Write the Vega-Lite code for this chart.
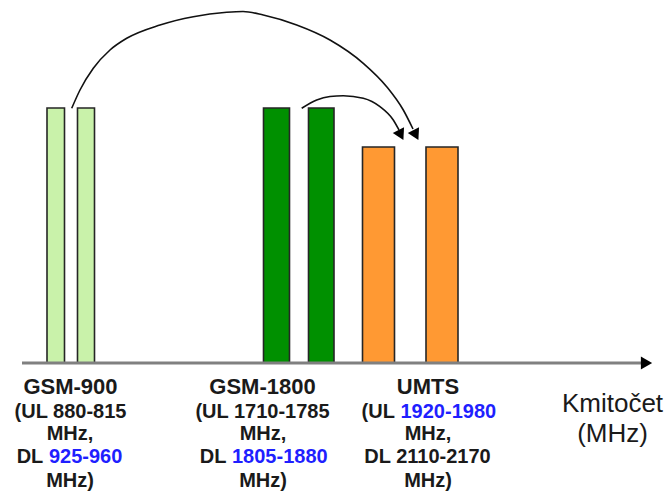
{
  "$schema": "https://vega.github.io/schema/vega-lite/v6.json",
  "width": 667,
  "height": 493,
  "autosize": {"type": "fit", "contains": "padding"},
  "padding": 0,
  "background": "white",
  "config": {"view": {"stroke": null}},
  "encoding": {
    "x": {"field": "x", "type": "quantitative", "scale": {"domain": [0, 667], "nice": false, "zero": false}, "axis": null},
    "y": {"field": "y", "type": "quantitative", "scale": {"domain": [-130, 363], "nice": false, "zero": false}, "axis": null}
  },
  "layer": [
    {
      "data": {"values": [
        {"band": "GSM-900", "link": "UL", "x": 47, "x2": 64.5, "y": 255, "y2": 0},
        {"band": "GSM-900", "link": "DL", "x": 77.5, "x2": 94.5, "y": 255, "y2": 0},
        {"band": "GSM-1800", "link": "UL", "x": 263.5, "x2": 289.5, "y": 255, "y2": 0},
        {"band": "GSM-1800", "link": "DL", "x": 308.5, "x2": 334, "y": 255, "y2": 0},
        {"band": "UMTS", "link": "UL", "x": 362.5, "x2": 394.5, "y": 216, "y2": 0},
        {"band": "UMTS", "link": "DL", "x": 426, "x2": 458, "y": 216, "y2": 0}
      ]},
      "mark": {"type": "rect", "fill": "#b5b5b5", "xOffset": 1.5, "yOffset": 1.5, "opacity": 0.7},
      "encoding": {
        "x2": {"field": "x2"},
        "y2": {"field": "y2"}
      }
    },
    {
      "data": {"values": [
        {"band": "GSM-900", "link": "UL", "x": 47, "x2": 64.5, "y": 255, "y2": 0},
        {"band": "GSM-900", "link": "DL", "x": 77.5, "x2": 94.5, "y": 255, "y2": 0},
        {"band": "GSM-1800", "link": "UL", "x": 263.5, "x2": 289.5, "y": 255, "y2": 0},
        {"band": "GSM-1800", "link": "DL", "x": 308.5, "x2": 334, "y": 255, "y2": 0},
        {"band": "UMTS", "link": "UL", "x": 362.5, "x2": 394.5, "y": 216, "y2": 0},
        {"band": "UMTS", "link": "DL", "x": 426, "x2": 458, "y": 216, "y2": 0}
      ]},
      "mark": {"type": "rect", "stroke": "#262626", "strokeWidth": 1.6},
      "encoding": {
        "x2": {"field": "x2"},
        "y2": {"field": "y2"},
        "fill": {"field": "band", "type": "nominal", "scale": {"domain": ["GSM-900", "GSM-1800", "UMTS"], "range": ["#c9f2aa", "#009000", "#ff9933"]}, "legend": null}
      }
    },
    {
      "data": {"values": [{"x": 22, "x2": 642, "y": 0}]},
      "mark": {"type": "rule", "color": "#808080", "strokeWidth": 3},
      "encoding": {"x2": {"field": "x2"}}
    },
    {
      "data": {"values": [{"x": 646.5, "y": 0}]},
      "mark": {"type": "point", "shape": "triangle-right", "size": 170, "filled": true, "color": "#000000", "opacity": 1},
      "encoding": {}
    },
    {
      "data": {"values": [
        {"arc": "big", "x": 71.7, "y": 254.7},
        {"arc": "big", "x": 80, "y": 273},
        {"arc": "big", "x": 93.3, "y": 294.7},
        {"arc": "big", "x": 110, "y": 313},
        {"arc": "big", "x": 126.7, "y": 324.7},
        {"arc": "big", "x": 160, "y": 338},
        {"arc": "big", "x": 193.3, "y": 346.3},
        {"arc": "big", "x": 226.7, "y": 350.7},
        {"arc": "big", "x": 243, "y": 351.5},
        {"arc": "big", "x": 263.3, "y": 348},
        {"arc": "big", "x": 296.7, "y": 338},
        {"arc": "big", "x": 330, "y": 323},
        {"arc": "big", "x": 363.3, "y": 299.7},
        {"arc": "big", "x": 386.7, "y": 276.3},
        {"arc": "big", "x": 403.3, "y": 253},
        {"arc": "big", "x": 413, "y": 234},
        {"arc": "small", "x": 301.7, "y": 254.7},
        {"arc": "small", "x": 316.7, "y": 263},
        {"arc": "small", "x": 330, "y": 266.5},
        {"arc": "small", "x": 343.3, "y": 267.3},
        {"arc": "small", "x": 363.3, "y": 264.7},
        {"arc": "small", "x": 380, "y": 256.3},
        {"arc": "small", "x": 393.3, "y": 243},
        {"arc": "small", "x": 399, "y": 233}
      ]},
      "mark": {"type": "line", "color": "#111111", "strokeWidth": 1.6, "interpolate": "monotone"},
      "encoding": {"detail": {"field": "arc", "type": "nominal"}}
    },
    {
      "data": {"values": [
        {"arc": "big", "x": 415.9, "y": 228},
        {"arc": "small", "x": 400.9, "y": 228}
      ]},
      "mark": {"type": "point", "shape": "triangle-down", "size": 160, "angle": -27, "filled": true, "color": "#000000", "opacity": 1},
      "encoding": {}
    },
    {
      "data": {"values": [
        {"x": 70.5, "y": -31, "text": "GSM-900"},
        {"x": 262.5, "y": -31, "text": "GSM-1800"},
        {"x": 428, "y": -31, "text": "UMTS"}
      ]},
      "mark": {"type": "text", "font": "Liberation Sans", "fontWeight": "bold", "fontSize": 22, "align": "center", "baseline": "alphabetic", "color": "#1a1a1a"},
      "encoding": {"text": {"field": "text"}}
    },
    {
      "data": {"values": [
        {"x": 70.5, "y": -54.7, "text": "(UL 880-815"},
        {"x": 70, "y": -77, "text": "MHz,"},
        {"x": 70, "y": -123.7, "text": "MHz)"},
        {"x": 262.5, "y": -54.7, "text": "(UL 1710-1785"},
        {"x": 263, "y": -77, "text": "MHz,"},
        {"x": 263, "y": -123.7, "text": "MHz)"},
        {"x": 428, "y": -77, "text": "MHz,"},
        {"x": 427.5, "y": -100.3, "text": "DL 2110-2170"},
        {"x": 428, "y": -123.7, "text": "MHz)"}
      ]},
      "mark": {"type": "text", "font": "Liberation Sans", "fontWeight": "bold", "fontSize": 20, "align": "center", "baseline": "alphabetic", "color": "#1a1a1a"},
      "encoding": {"text": {"field": "text"}}
    },
    {
      "data": {"values": [
        {"x": 43.3, "y": -100.3, "text": "DL"},
        {"x": 226.4, "y": -100.3, "text": "DL"},
        {"x": 394.9, "y": -54.7, "text": "(UL"}
      ]},
      "mark": {"type": "text", "font": "Liberation Sans", "fontWeight": "bold", "fontSize": 20, "align": "right", "baseline": "alphabetic", "color": "#1a1a1a"},
      "encoding": {"text": {"field": "text"}}
    },
    {
      "data": {"values": [
        {"x": 48.9, "y": -100.3, "text": "925-960"},
        {"x": 232, "y": -100.3, "text": "1805-1880"},
        {"x": 400.5, "y": -54.7, "text": "1920-1980"}
      ]},
      "mark": {"type": "text", "font": "Liberation Sans", "fontWeight": "bold", "fontSize": 20, "align": "left", "baseline": "alphabetic", "color": "#1f1fff"},
      "encoding": {"text": {"field": "text"}}
    },
    {
      "data": {"values": [
        {"x": 612.5, "y": -48.7, "text": "Kmitočet"},
        {"x": 612.5, "y": -78.7, "text": "(MHz)"}
      ]},
      "mark": {"type": "text", "font": "Liberation Sans", "fontWeight": "normal", "fontSize": 26, "align": "center", "baseline": "alphabetic", "color": "#1a1a1a"},
      "encoding": {"text": {"field": "text"}}
    }
  ]
}
